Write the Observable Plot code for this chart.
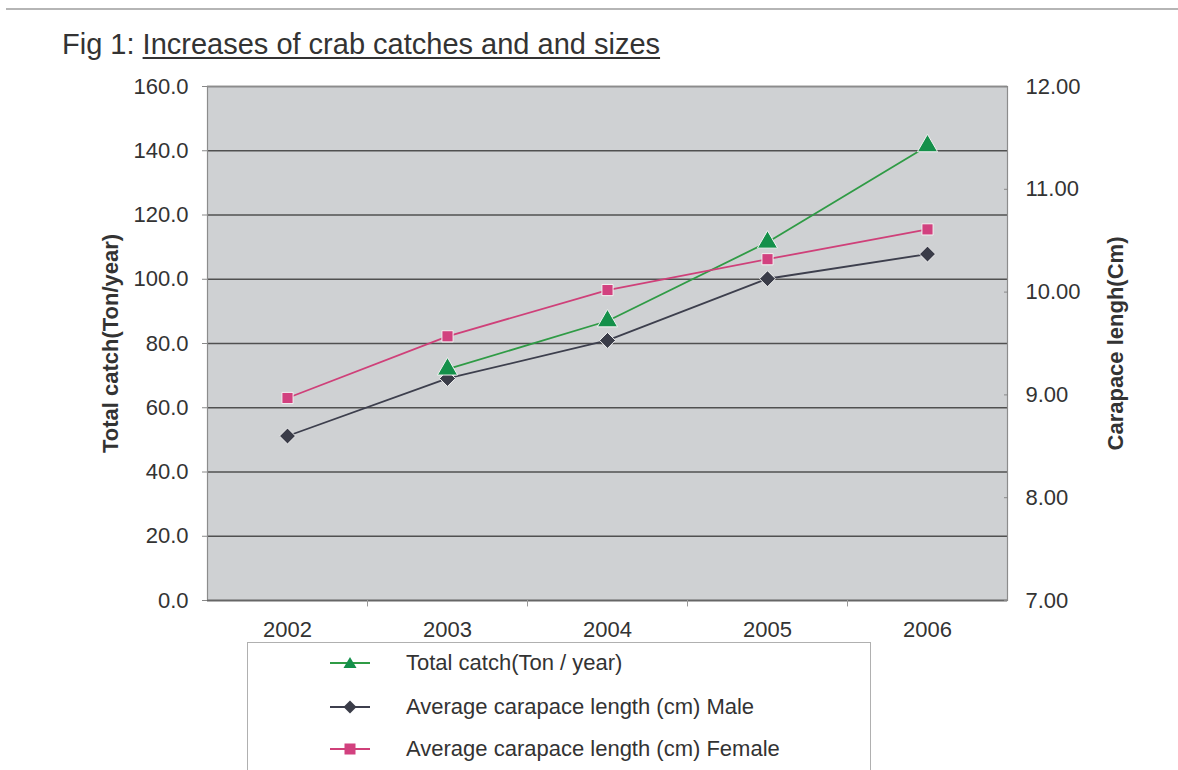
<!DOCTYPE html>
<html>
<head>
<meta charset="utf-8">
<script src="https://cdn.jsdelivr.net/npm/d3@7"></script>
<script src="https://cdn.jsdelivr.net/npm/@observablehq/plot@0.6"></script>
<style>
  html, body { margin: 0; padding: 0; background: #fff; }
  body { width: 1178px; height: 770px; position: relative; overflow: hidden; font-family: "Liberation Sans", Arial, sans-serif; color: #333; }
  #topline { position: absolute; left: 6px; right: 0; top: 8px; height: 0; border-top: 2px solid #b5b5b5; }
  #title { position: absolute; left: 62px; top: 28px; font-size: 29px; color: #333; white-space: nowrap; }
  #title u { text-decoration-thickness: 1.5px; text-underline-offset: 3px; }
  #chart { position: absolute; left: 0; top: 70px; }
  #legend { position: absolute; left: 247px; top: 642px; width: 622px; height: 140px; border: 1px solid #b0b0b0; background: #fff; }
  .row { position: absolute; left: 82px; height: 26px; display: flex; align-items: center; font-size: 22px; color: #333; white-space: nowrap; }
  .row svg { margin-right: 36px; }
</style>
</head>
<body>
<div id="topline"></div>
<div id="title">Fig 1: <u>Increases of crab catches and and sizes</u></div>
<div id="chart"></div>
<div id="legend"></div>
<script>
// ---- data ----
const years = ["2002", "2003", "2004", "2005", "2006"];
const totalCatch = [null, 72, 87, 111.5, 141.5];          // Ton / year (left axis)
const maleLength = [8.6, 9.16, 9.53, 10.13, 10.37];       // cm (right axis)
const femaleLength = [8.97, 9.57, 10.02, 10.32, 10.61];   // cm (right axis)
const leftTicks = [0, 20, 40, 60, 80, 100, 120, 140, 160];
const rightTicks = [7, 8, 9, 10, 11, 12];
const seriesNames = ["Total catch(Ton / year)", "Average carapace length (cm) Male", "Average carapace length (cm) Female"];
const leftTitle = "Total catch(Ton/year)";
const rightTitle = "Carapace lengh(Cm)";

// right axis (7..12) mapped onto left axis (0..160)
const rMin = 7, rMax = 12, lMin = 0, lMax = 160;
const toLeft = v => lMin + (v - rMin) * (lMax - lMin) / (rMax - rMin);
const fromLeft = v => rMin + (v - lMin) * (rMax - rMin) / (lMax - lMin);

const catchRows = years.map((y, i) => ({year: y, v: totalCatch[i]})).filter(d => d.v != null);
const maleRows = years.map((y, i) => ({year: y, v: toLeft(maleLength[i])}));
const femaleRows = years.map((y, i) => ({year: y, v: toLeft(femaleLength[i])}));

const C_GREEN_LINE = "#2f9b45", C_GREEN = "#14904a";
const C_DARK_LINE = "#3d3f4d", C_DARK = "#3a3c48";
const C_PINK_LINE = "#cf4079", C_PINK = "#d2417f";

const chart = Plot.plot({
  width: 1178,
  height: 580,
  marginTop: 16,
  marginBottom: 50,
  marginLeft: 207,
  marginRight: 171,
  style: {fontFamily: "Liberation Sans, Arial, sans-serif", fontSize: "22px", color: "#333", background: "transparent"},
  x: {type: "point", domain: years, padding: 0.5},
  y: {domain: [lMin, lMax]},
  marks: [
    Plot.frame({fill: "#cfd1d3", stroke: "none"}),
    Plot.gridY(leftTicks, {stroke: "#505050", strokeOpacity: 1, strokeWidth: 1.4}),
    Plot.frame({stroke: "#8c8c8c", strokeWidth: 1.2}),
    Plot.ruleY([0], {stroke: "#666", strokeWidth: 1.5}),
    // category boundary ticks below the baseline
    Plot.ruleX(years.slice(1), {y1: 0, y2: -2, dx: -80, stroke: "#999"}),
    Plot.axisY(leftTicks, {anchor: "left", tickSize: 5, tickPadding: 14, fontSize: 22, tickFormat: d => d.toFixed(1), label: null, stroke: "#888"}),
    Plot.axisY(rightTicks.map(toLeft), {anchor: "right", tickSize: -4, tickPadding: 22, fontSize: 22, tickFormat: d => fromLeft(d).toFixed(2), label: null, stroke: "#888"}),
    Plot.axisX(years, {anchor: "bottom", tickSize: 0, tickPadding: 21, fontSize: 22, label: null}),
    Plot.text([leftTitle], {frameAnchor: "left", textAnchor: "middle", rotate: -90, dx: -97, fontWeight: "bold", fontSize: 22, fill: "#333"}),
    Plot.text([rightTitle], {frameAnchor: "right", textAnchor: "middle", rotate: -90, dx: 108, fontWeight: "bold", fontSize: 22, fill: "#333"}),
    // series
    Plot.line(catchRows, {x: "year", y: "v", stroke: C_GREEN_LINE, strokeWidth: 1.8}),
    Plot.line(maleRows, {x: "year", y: "v", stroke: C_DARK_LINE, strokeWidth: 1.8}),
    Plot.line(femaleRows, {x: "year", y: "v", stroke: C_PINK_LINE, strokeWidth: 1.8}),
    Plot.dot(femaleRows, {x: "year", y: "v", symbol: "square", r: 6.3, fill: C_PINK, stroke: "#f2f2f2", strokeWidth: 1}),
    Plot.dot(maleRows, {x: "year", y: "v", symbol: "diamond2", r: 7.2, fill: C_DARK, stroke: "#f2f2f2", strokeWidth: 1}),
    Plot.dot(catchRows, {x: "year", y: "v", symbol: "triangle", r: 7.5, fill: C_GREEN, stroke: "#f2f2f2", strokeWidth: 1})
  ]
});
document.getElementById("chart").appendChild(chart);

// ---- legend ----
const legend = document.getElementById("legend");
const swatches = [
  {line: C_GREEN_LINE, fill: C_GREEN, shape: "triangle"},
  {line: C_DARK_LINE, fill: C_DARK, shape: "diamond"},
  {line: C_PINK_LINE, fill: C_PINK, shape: "square"}
];
const rowTops = [7, 51, 93];
seriesNames.forEach((name, i) => {
  const s = swatches[i];
  let marker;
  if (s.shape === "triangle") marker = `<path d="M20,5 L26.5,16 L13.5,16 Z" fill="${s.fill}"/>`;
  else if (s.shape === "diamond") marker = `<path d="M20,4.5 L26.5,11 L20,17.5 L13.5,11 Z" fill="${s.fill}"/>`;
  else marker = `<rect x="14.5" y="5.5" width="11" height="11" fill="${s.fill}"/>`;
  const row = document.createElement("div");
  row.className = "row";
  row.style.top = rowTops[i] + "px";
  row.innerHTML = `<svg width="40" height="22" viewBox="0 0 40 22"><line x1="0" x2="40" y1="11" y2="11" stroke="${s.line}" stroke-width="1.8"/>${marker}</svg><span>${name}</span>`;
  legend.appendChild(row);
});
</script>
</body>
</html>
